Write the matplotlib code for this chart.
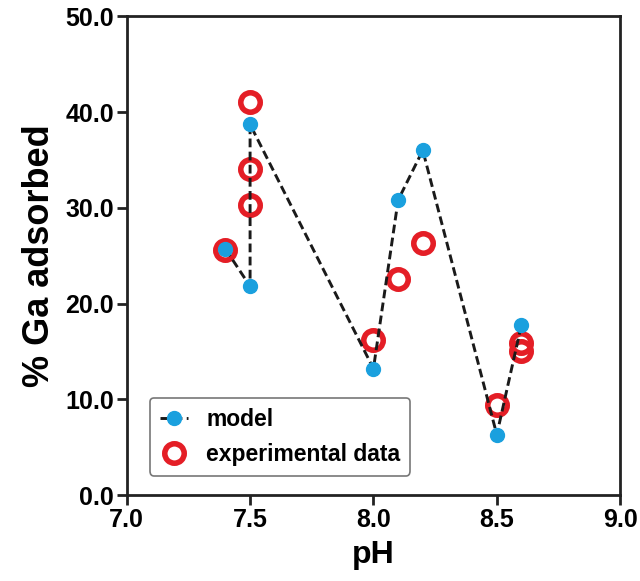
import matplotlib
matplotlib.use("Agg")
import matplotlib.pyplot as plt

# model curve (blue dots joined by dashed line)
model_ph = [7.4, 7.5, 7.5, 8.0, 8.1, 8.2, 8.5, 8.6]
model_ads = [25.7, 21.8, 38.7, 13.2, 30.8, 36.0, 6.3, 17.8]

# experimental data (red open circles)
exp_ph = [7.4, 7.5, 7.5, 7.5, 8.0, 8.1, 8.2, 8.5, 8.6, 8.6]
exp_ads = [25.6, 41.0, 34.1, 30.3, 16.2, 22.6, 26.3, 9.4, 15.9, 15.0]

x_ticks = [7.0, 7.5, 8.0, 8.5, 9.0]
y_ticks = [0, 10, 20, 30, 40, 50]

plt.rcParams["font.family"] = ["Liberation Sans", "DejaVu Sans"]
plt.rcParams["font.weight"] = "bold"

fig = plt.figure(figsize=(6.4, 5.81), dpi=100)
ax = fig.add_axes([0.198, 0.148, 0.771, 0.824])

ax.plot(exp_ph, exp_ads, linestyle="none", marker="o", markersize=14,
        markerfacecolor="none", markeredgecolor="#E41E26", markeredgewidth=4,
        label="experimental data", zorder=3)
ax.plot(model_ph, model_ads, linestyle=(0, (3, 1.5)), color="#1a1a1a", linewidth=2.1,
        marker="o", markersize=10, markerfacecolor="#1AA0DE", markeredgecolor="#1AA0DE",
        label="model", zorder=4)

ax.set_xlim(7.0, 9.0)
ax.set_ylim(0, 50)
ax.set_xticks(x_ticks)
ax.set_yticks(y_ticks)
ax.set_xticklabels([f"{v:.1f}" for v in x_ticks])
ax.set_yticklabels([f"{v:.1f}" for v in y_ticks])
ax.tick_params(labelsize=18, width=2, length=7, direction="out", color="#222222", pad=2)
for s in ax.spines.values():
    s.set_linewidth(2)
    s.set_color("#222222")

ax.set_xlabel("pH", fontsize=23, fontweight="bold", labelpad=6)
ax.set_ylabel("% Ga adsorbed", fontsize=26, fontweight="bold", labelpad=6)

handles, labels = ax.get_legend_handles_labels()
leg = ax.legend(handles[::-1], labels[::-1], loc="lower left",
                bbox_to_anchor=(0.047, 0.04), borderaxespad=0, fontsize=16.5,
                handlelength=1.2, frameon=True, fancybox=True, edgecolor="#555555",
                borderpad=0.45, labelspacing=0.5)
leg.get_frame().set_linewidth(1.2)

fig.savefig("out.png", dpi=100)
